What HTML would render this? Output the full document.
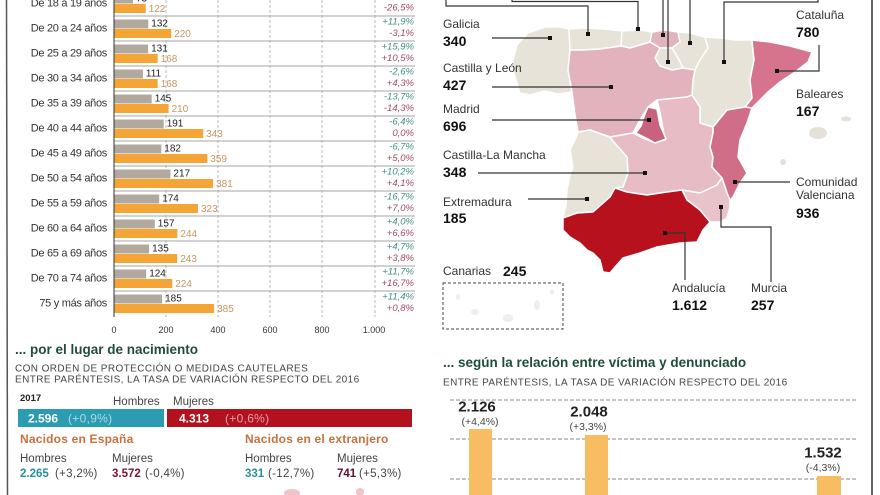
<!DOCTYPE html>
<html><head><meta charset="utf-8"><style>
html,body{margin:0;padding:0;background:#fff;}
svg{display:block;font-family:"Liberation Sans",Arial,sans-serif;}
</style></head><body>
<svg width="880" height="495" viewBox="0 0 880 495" xmlns="http://www.w3.org/2000/svg">
<rect width="880" height="495" fill="#fff"/>
<!-- borders -->
<line x1="6.5" y1="0" x2="7.5" y2="495" stroke="#555" stroke-width="1.5"/>
<line x1="872" y1="0" x2="872" y2="495" stroke="#333" stroke-width="1.5"/>

<!-- ===== Age bar chart ===== -->
<g stroke="#aaa" stroke-width="0.8" stroke-dasharray="3,2">
<line x1="166" y1="0" x2="166" y2="317"/><line x1="218" y1="0" x2="218" y2="317"/>
<line x1="270" y1="0" x2="270" y2="317"/><line x1="322" y1="0" x2="322" y2="317"/>
<line x1="375" y1="0" x2="375" y2="317"/>
</g>
<g stroke="#a5a5a5" stroke-width="1.1">
<line x1="114" y1="16" x2="415" y2="16"/><line x1="114" y1="41" x2="415" y2="41"/>
<line x1="114" y1="66" x2="415" y2="66"/><line x1="114" y1="91" x2="415" y2="91"/>
<line x1="114" y1="116" x2="415" y2="116"/><line x1="114" y1="141" x2="415" y2="141"/>
<line x1="114" y1="166" x2="415" y2="166"/><line x1="114" y1="191" x2="415" y2="191"/>
<line x1="114" y1="216" x2="415" y2="216"/><line x1="114" y1="241" x2="415" y2="241"/>
<line x1="114" y1="266" x2="415" y2="266"/><line x1="114" y1="291" x2="415" y2="291"/>
</g>
<!-- bars -->
<g fill="#b1a99e">
<rect x="114" y="-5.5" width="19" height="9"/>
<rect x="114" y="19.5" width="34.3" height="9"/>
<rect x="114" y="44.5" width="34.1" height="9"/>
<rect x="114" y="69.5" width="28.9" height="9"/>
<rect x="114" y="94.5" width="37.7" height="9"/>
<rect x="114" y="119.5" width="49.7" height="9"/>
<rect x="114" y="144.5" width="47.3" height="9"/>
<rect x="114" y="169.5" width="56.4" height="9"/>
<rect x="114" y="194.5" width="45.2" height="9"/>
<rect x="114" y="219.5" width="40.8" height="9"/>
<rect x="114" y="244.5" width="35.1" height="9"/>
<rect x="114" y="269.5" width="32.2" height="9"/>
<rect x="114" y="294.5" width="48.1" height="9"/>
</g>
<g fill="#f5a536">
<rect x="114" y="4" width="31.7" height="9"/>
<rect x="114" y="29" width="57.2" height="9"/>
<rect x="114" y="54" width="43.7" height="9"/>
<rect x="114" y="79" width="43.7" height="9"/>
<rect x="114" y="104" width="54.6" height="9"/>
<rect x="114" y="129" width="89.2" height="9"/>
<rect x="114" y="154" width="93.3" height="9"/>
<rect x="114" y="179" width="99.1" height="9"/>
<rect x="114" y="204" width="84" height="9"/>
<rect x="114" y="229" width="63.4" height="9"/>
<rect x="114" y="254" width="63.2" height="9"/>
<rect x="114" y="279" width="58.2" height="9"/>
<rect x="114" y="304" width="100.1" height="9"/>
</g>
<line x1="114" y1="0" x2="114" y2="317" stroke="#333" stroke-width="1"/>
<!-- age labels -->
<g font-size="11" fill="#333" text-anchor="end" letter-spacing="-0.3">
<text x="107" y="6.5">De 18 a 19 años</text>
<text x="107" y="31.5">De 20 a 24 años</text>
<text x="107" y="56.5">De 25 a 29 años</text>
<text x="107" y="81.5">De 30 a 34 años</text>
<text x="107" y="106.5">De 35 a 39 años</text>
<text x="107" y="131.5">De 40 a 44 años</text>
<text x="107" y="156.5">De 45 a 49 años</text>
<text x="107" y="181.5">De 50 a 54 años</text>
<text x="107" y="206.5">De 55 a 59 años</text>
<text x="107" y="231.5">De 60 a 64 años</text>
<text x="107" y="256.5">De 65 a 69 años</text>
<text x="107" y="281.5">De 70 a 74 años</text>
<text x="107" y="306.5">75 y más años</text>
</g>
<!-- men values -->
<g font-size="10" fill="#222">
<text x="136" y="1.5">73</text>
<text x="151.3" y="26.5">132</text>
<text x="151.1" y="51.5">131</text>
<text x="145.9" y="76.5">111</text>
<text x="154.7" y="101.5">145</text>
<text x="166.7" y="126.5">191</text>
<text x="164.3" y="151.5">182</text>
<text x="173.4" y="176.5">217</text>
<text x="162.2" y="201.5">174</text>
<text x="157.8" y="226.5">157</text>
<text x="152.1" y="251.5">135</text>
<text x="149.2" y="276.5">124</text>
<text x="165.1" y="301.5">185</text>
</g>
<!-- women values -->
<g font-size="10" fill="#c9955e">
<text x="148.7" y="12">122</text>
<text x="174.2" y="37">220</text>
<text x="160.7" y="62">168</text>
<text x="160.7" y="87">168</text>
<text x="171.6" y="112">210</text>
<text x="206.2" y="137">343</text>
<text x="210.3" y="162">359</text>
<text x="216.1" y="187">381</text>
<text x="201" y="212">323</text>
<text x="180.4" y="237">244</text>
<text x="180.2" y="262">243</text>
<text x="175.2" y="287">224</text>
<text x="217.1" y="312">385</text>
</g>
<!-- percentages -->
<g font-size="9.5" font-style="italic" text-anchor="end" fill="#3f8f86">
<text x="414" y="24.5">+11,9%</text>
<text x="414" y="49.5">+15,9%</text>
<text x="414" y="74.5">-2,6%</text>
<text x="414" y="99.5">-13,7%</text>
<text x="414" y="124.5">-6,4%</text>
<text x="414" y="149.5">-6,7%</text>
<text x="414" y="174.5">+10,2%</text>
<text x="414" y="199.5">-16,7%</text>
<text x="414" y="224.5">+4,0%</text>
<text x="414" y="249.5">+4,7%</text>
<text x="414" y="274.5">+11,7%</text>
<text x="414" y="299.5">+11,4%</text>
</g>
<g font-size="9.5" font-style="italic" text-anchor="end" fill="#a34a63">
<text x="414" y="10.5">-26,5%</text>
<text x="414" y="36">-3,1%</text>
<text x="414" y="61">+10,5%</text>
<text x="414" y="86">+4,3%</text>
<text x="414" y="111">-14,3%</text>
<text x="414" y="136">0,0%</text>
<text x="414" y="161">+5,0%</text>
<text x="414" y="186">+4,1%</text>
<text x="414" y="211">+7,0%</text>
<text x="414" y="236">+6,6%</text>
<text x="414" y="261">+3,8%</text>
<text x="414" y="286">+16,7%</text>
<text x="414" y="311">+0,8%</text>
</g>
<g font-size="9" fill="#333" text-anchor="middle">
<text x="114" y="333">0</text><text x="166" y="333">200</text><text x="218" y="333">400</text>
<text x="270" y="333">600</text><text x="322" y="333">800</text><text x="374" y="333">1.000</text>
</g>

<!-- ===== Bottom left ===== -->
<text x="15" y="354" font-size="13.5" font-weight="bold" fill="#1f4d3a">... por el lugar de nacimiento</text>
<text x="15" y="371.5" font-size="10" fill="#444" letter-spacing="0.4">CON ORDEN DE PROTECCIÓN O MEDIDAS CAUTELARES</text>
<text x="15" y="382.5" font-size="10" fill="#444" letter-spacing="0.4">ENTRE PARÉNTESIS, LA TASA DE VARIACIÓN RESPECTO DEL 2016</text>
<text x="20" y="401" font-size="9.5" font-weight="bold" fill="#222">2017</text>
<text x="113" y="405" font-size="11.5" fill="#444">Hombres</text>
<text x="173" y="405" font-size="11.5" fill="#444">Mujeres</text>
<rect x="18" y="409" width="146" height="18" fill="#2b9cb1"/>
<rect x="167" y="409" width="245" height="18" fill="#b3111d"/>
<text x="28" y="422.5" font-size="12" font-weight="bold" fill="#fff">2.596</text>
<text x="68" y="422.5" font-size="12" fill="#a9dbe6" letter-spacing="0.3">(+0,9%)</text>
<text x="179" y="422.5" font-size="12" font-weight="bold" fill="#fff">4.313</text>
<text x="225" y="422.5" font-size="12" fill="#e6a0a6" letter-spacing="0.3">(+0,6%)</text>
<text x="20" y="443" font-size="12" font-weight="bold" fill="#c8703e" letter-spacing="0.2">Nacidos en España</text>
<text x="245" y="443" font-size="12" font-weight="bold" fill="#c8703e" letter-spacing="0.2">Nacidos en el extranjero</text>
<g font-size="11.5" fill="#444">
<text x="20" y="462">Hombres</text><text x="112" y="462">Mujeres</text>
<text x="245" y="462">Hombres</text><text x="337" y="462">Mujeres</text>
</g>
<g font-size="11.5">
<text x="20" y="477" font-weight="bold" fill="#2a8fa3">2.265</text>
<text x="55" y="477" fill="#444" letter-spacing="0.3">(+3,2%)</text>
<text x="112" y="477" font-weight="bold" fill="#7d1233">3.572</text>
<text x="145" y="477" fill="#444" letter-spacing="0.3">(-0,4%)</text>
<text x="245" y="477" font-weight="bold" fill="#2a8fa3">331</text>
<text x="268" y="477" fill="#444" letter-spacing="0.3">(-12,7%)</text>
<text x="337" y="477" font-weight="bold" fill="#5e1030">741</text>
<text x="359" y="477" fill="#444" letter-spacing="0.3">(+5,3%)</text>
</g>
<ellipse cx="292" cy="493" rx="8" ry="4" fill="#f1c3ca"/>
<ellipse cx="360" cy="492" rx="4" ry="4" fill="#f1c3ca"/>

<!-- ===== Bottom right ===== -->
<text x="443" y="367" font-size="13.5" font-weight="bold" fill="#1f4d3a">... según la relación entre víctima y denunciado</text>
<text x="443" y="385.5" font-size="10" fill="#444" letter-spacing="0.4">ENTRE PARÉNTESIS, LA TASA DE VARIACIÓN RESPECTO DEL 2016</text>
<g stroke="#8a8a8a" stroke-width="1" stroke-dasharray="4,2">
<line x1="450" y1="400" x2="858" y2="400"/>
<line x1="450" y1="439" x2="858" y2="439"/>
<line x1="450" y1="479" x2="858" y2="479"/>
</g>
<g fill="#f8bc62">
<rect x="469" y="429" width="23" height="70"/>
<rect x="585" y="435" width="23" height="70"/>
<rect x="817" y="476" width="24" height="30"/>
</g>
<g text-anchor="middle">
<text x="477" y="411.5" font-size="15" font-weight="bold" fill="#222">2.126</text>
<text x="480" y="425" font-size="10.5" fill="#444">(+4,4%)</text>
<text x="589" y="416.5" font-size="15" font-weight="bold" fill="#222">2.048</text>
<text x="588" y="430" font-size="10.5" fill="#444">(+3,3%)</text>
<text x="823" y="457.5" font-size="15" font-weight="bold" fill="#222">1.532</text>
<text x="823" y="471" font-size="10.5" fill="#444">(-4,3%)</text>
</g>

<!-- ===== Map ===== -->
<g stroke="#fff" stroke-width="1.5" stroke-linejoin="round">
<polygon fill="#e7e3d9" points="513,60 517,45 528,33 545,27 560,27 569,29 570,50 568,70 572,92 558,94 545,91 530,95 520,93 516,80 512,68"/>
<polygon fill="#e7e3d9" points="569,29 585,28 605,29 622,31 621,46 600,49 582,50 570,50"/>
<polygon fill="#e7e3d9" points="622,31 640,30 652,32 650,42 640,45 630,48 621,46"/>
<polygon fill="#e2b5be" points="652,32 665,30 678,32 680,42 672,48 660,48 650,42"/>
<polygon fill="#e7e3d9" points="678,32 690,33 705,37 708,48 700,60 695,70 683,68 678,58 672,48 680,42"/>
<polygon fill="#e7e3d9" points="660,48 672,48 678,58 683,68 672,70 660,66 655,58"/>
<polygon fill="#e7e3d9" points="705,37 720,38 735,40 752,40 754,60 750,80 752,98 745,107 727,110 713,127 700,123 700,107 692,95 693,80 695,70 700,60 708,48"/>
<polygon fill="#d6748e" points="752,40 770,42 790,46 812,52 808,62 795,72 780,82 768,92 760,100 752,108 745,107 752,98 750,80 754,60"/>
<polygon fill="#e2b3bc" points="570,50 582,50 600,49 621,46 630,48 640,45 650,42 660,48 655,58 660,66 672,70 683,68 695,70 693,80 692,95 687,97 657,100 648,107 640,120 633,133 610,137 590,130 578,132 575,115 572,92 568,70"/>
<polygon fill="#e8bcc4" points="610,137 633,133 643,138 653,142 665,140 660,112 657,100 687,97 692,95 700,107 700,123 713,127 713,133 710,147 713,157 712,167 722,178 717,185 700,193 682,190 667,192 647,195 627,192 615,188 623,187 628,173 627,157 612,140"/>
<polygon fill="#c8627d" points="648,107 657,109 660,125 666,139 655,143 646,138 636,133 641,126 645,114"/>
<polygon fill="#e7e3d9" points="578,132 590,130 610,137 612,140 627,157 628,173 623,187 615,188 610,197 593,212 577,213 563,218 566,205 567,190 570,175 573,167 570,150 575,140"/>
<polygon fill="#d06e88" points="745,107 752,108 747,123 740,140 738,157 747,173 740,183 733,197 730,200 727,193 722,178 712,167 713,157 710,147 713,133 713,127 727,110"/>
<polygon fill="#e8c3c9" points="682,190 700,193 717,185 722,178 727,193 730,200 730,207 727,218 720,222 710,222 700,210 687,200"/>
<polygon fill="#b7111e" points="563,218 577,213 593,212 610,197 615,188 627,192 647,195 667,192 682,190 687,200 700,210 710,222 703,230 697,242 680,243 657,247 640,253 623,258 615,267 610,273 603,272 600,260 593,253 587,250 580,243 570,237 563,230"/>
</g>
<g fill="#e4e1d8">
<ellipse cx="818" cy="133" rx="9" ry="6"/>
<ellipse cx="846" cy="119" rx="5" ry="2.5"/>
<ellipse cx="783" cy="162" rx="3" ry="3"/>
</g>
<rect x="443" y="283" width="120" height="46" fill="none" stroke="#444" stroke-width="1" stroke-dasharray="3,2"/>
<g fill="#eeeeee">
<ellipse cx="458" cy="297" rx="2" ry="3"/>
<ellipse cx="475" cy="312" rx="4" ry="3"/>
<ellipse cx="508" cy="318" rx="5" ry="4"/>
<ellipse cx="537" cy="305" rx="3" ry="5"/>
<ellipse cx="552" cy="292" rx="2" ry="3"/>
</g>

<g fill="none" stroke="#333" stroke-width="1.2">
<polyline points="492,38 550,38"/>
<polyline points="492,87 611,87"/>
<polyline points="492,120 649,120"/>
<polyline points="478,173 645,173"/>
<polyline points="528,199 587,199"/>
<polyline points="446,0 446,6 588,6 588,34"/>
<polyline points="512,0 512,1.5 638,1.5 638,29"/>
<polyline points="663,0 663,35"/>
<polyline points="668,0 668,62"/>
<polyline points="690,0 690,43"/>
<polyline points="818,0 818,2 724,2 724,62"/>
<polyline points="777,71 819,71 819,45"/>
<polyline points="735,182 790,182"/>
<polyline points="721,207 721,227 771,227 771,282"/>
<polyline points="665,233 685,233 685,280"/>
</g>
<g fill="#111">
<rect x="548" y="36" width="4" height="4"/>
<rect x="609" y="85" width="4" height="4"/>
<rect x="647" y="118" width="4" height="4"/>
<rect x="643" y="171" width="4" height="4"/>
<rect x="585" y="197" width="4" height="4"/>
<rect x="586" y="32" width="4" height="4"/>
<rect x="636" y="27" width="4" height="4"/>
<rect x="661" y="33" width="4" height="4"/>
<rect x="666" y="60" width="4" height="4"/>
<rect x="688" y="41" width="4" height="4"/>
<rect x="722" y="60" width="4" height="4"/>
<rect x="775" y="69" width="4" height="4"/>
<rect x="733" y="180" width="4" height="4"/>
<rect x="719" y="205" width="4" height="4"/>
<rect x="663" y="231" width="4" height="4"/>
</g>
<g font-size="12" fill="#333">
<text x="443" y="28">Galicia</text>
<text x="443" y="72">Castilla y León</text>
<text x="443" y="113">Madrid</text>
<text x="443" y="159">Castilla-La Mancha</text>
<text x="443" y="206">Extremadura</text>
<text x="443" y="275">Canarias</text>
<text x="796" y="19">Cataluña</text>
<text x="796" y="98">Baleares</text>
<text x="796" y="186">Comunidad</text>
<text x="796" y="199">Valenciana</text>
<text x="672" y="292">Andalucía</text>
<text x="751" y="292">Murcia</text>
</g>
<g font-size="14" font-weight="bold" fill="#111">
<text x="443" y="46">340</text>
<text x="443" y="90">427</text>
<text x="443" y="131">696</text>
<text x="443" y="177">348</text>
<text x="443" y="223">185</text>
<text x="503" y="276">245</text>
<text x="796" y="37">780</text>
<text x="796" y="116">167</text>
<text x="796" y="218">936</text>
<text x="672" y="310">1.612</text>
<text x="751" y="310">257</text>
</g>
</svg>
</body></html>
